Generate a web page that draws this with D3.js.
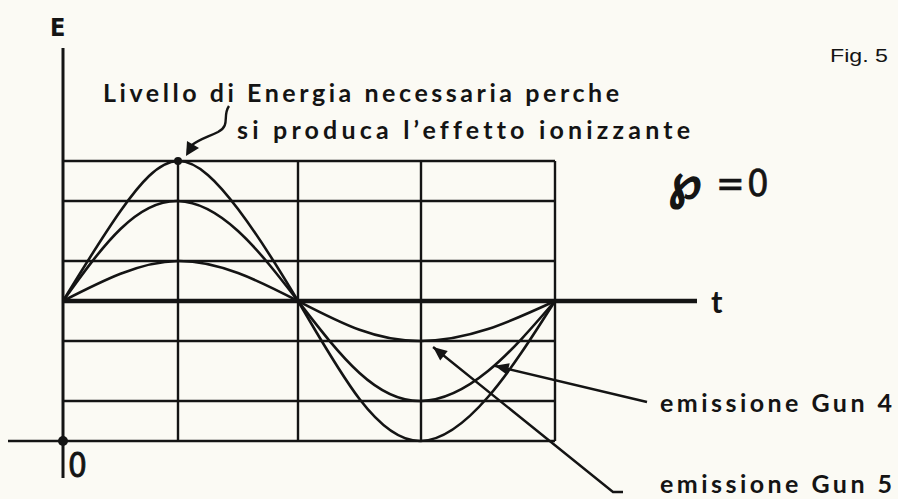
<!DOCTYPE html>
<html>
<head>
<meta charset="utf-8">
<script src="https://cdn.jsdelivr.net/npm/d3@7"></script>
<style>
  body { margin: 0; background: #fbfaf4; }
  svg { display: block; }
  text { fill: #141414; font-variant-ligatures: none; }
</style>
</head>
<body>
<svg width="898" height="499"></svg>
<script>
// grid columns (time) and rows (energy levels)
const tTicks = [0, 1, 2, 3, 4];
const eLevels = [3.5, 2.5, 1, 0, -1, -2.5, -3.5];

const tSample = [0, 0.5, 1, 1.5, 2, 2.5, 3, 3.5, 4];
const curveBig   = [0, 2.25, 3.5, 2.3, 0, -2.45, -3.5, -2.4, 0];
const curveGun4  = [0, 1.8, 2.5, 1.75, 0, -1.8, -2.5, -1.75, 0];
const curveGun5  = [0, 0.68, 1, 0.7, 0, -0.72, -1, -0.7, 0];

const svg = d3.select('svg');
const ink = '#141414';

// time axis is not uniform in the drawing (second half-wave is wider)
const x = d3.scaleLinear().domain(tTicks).range([63, 178, 298, 421, 555]);
const y = d3.scaleLinear().domain([-3.5, 3.5]).range([441, 161]);

svg.append('rect')
  .attr('width', 898).attr('height', 499)
  .attr('fill', '#fbfaf4');

const g = svg.append('g');

// horizontal grid lines
g.selectAll('.hline')
  .data(eLevels.filter(d => d !== 0))
  .enter().append('line')
  .attr('x1', d => d === -3.5 ? 8 : x(0))
  .attr('x2', x(4))
  .attr('y1', d => y(d))
  .attr('y2', d => y(d))
  .attr('stroke', ink)
  .attr('stroke-width', 2.4);

// vertical grid lines
g.selectAll('.vline')
  .data(tTicks.slice(1))
  .enter().append('line')
  .attr('x1', d => x(d))
  .attr('x2', d => x(d))
  .attr('y1', y(3.5))
  .attr('y2', y(-3.5))
  .attr('stroke', ink)
  .attr('stroke-width', 2.4);

// E axis
g.append('line')
  .attr('x1', x(0)).attr('x2', x(0))
  .attr('y1', 48).attr('y2', 478)
  .attr('stroke', ink)
  .attr('stroke-width', 3);

// t axis
g.append('line')
  .attr('x1', x(0)).attr('x2', 697)
  .attr('y1', y(0)).attr('y2', y(0))
  .attr('stroke', ink)
  .attr('stroke-width', 4.5);

// curves
const line = d3.line()
  .x((d, i) => x(tSample[i]))
  .y(d => y(d))
  .curve(d3.curveNatural);

g.selectAll('.curve')
  .data([curveBig, curveGun4, curveGun5])
  .enter().append('path')
  .attr('d', line)
  .attr('fill', 'none')
  .attr('stroke', ink)
  .attr('stroke-width', 2.6);

// dots
g.append('circle')
  .attr('cx', x(0)).attr('cy', y(-3.5))
  .attr('r', 5).attr('fill', ink);
g.append('circle')
  .attr('cx', x(1)).attr('cy', y(3.5))
  .attr('r', 4).attr('fill', ink);

// labels
const narrow = 'Liberation Sans Narrow, DejaVu Sans Condensed, sans-serif';

svg.append('text')
  .attr('x', 50).attr('y', 36)
  .attr('font-family', narrow)
  .attr('font-weight', 'bold')
  .attr('font-size', 25)
  .text('E');

svg.append('text')
  .attr('x', 711).attr('y', 313)
  .attr('font-family', 'Lato, sans-serif')
  .attr('font-weight', 'bold')
  .attr('font-size', 31)
  .text('t');

svg.append('text')
  .attr('x', 68).attr('y', 477)
  .attr('font-family', narrow)
  .attr('font-size', 33)
  .attr('stroke', ink)
  .attr('stroke-width', 0.8)
  .text('0');

svg.append('text')
  .attr('x', 830).attr('y', 62)
  .attr('font-family', 'Liberation Sans, Arial, sans-serif')
  .attr('font-size', 19)
  .attr('textLength', 58)
  .attr('lengthAdjust', 'spacingAndGlyphs')
  .text('Fig. 5');

const labelFont = 'Lato, sans-serif';

svg.append('text')
  .attr('x', 103).attr('y', 102)
  .attr('font-family', labelFont)
  .attr('font-weight', 'bold')
  .attr('font-size', 25)
  .attr('textLength', 516)
  .attr('lengthAdjust', 'spacing')
  .text('Livello di Energia necessaria perche');

svg.append('text')
  .attr('x', 237).attr('y', 139)
  .attr('font-family', labelFont)
  .attr('font-weight', 'bold')
  .attr('font-size', 25)
  .attr('textLength', 453)
  .attr('lengthAdjust', 'spacing')
  .text('si produca l\u2019effetto ionizzante');

svg.append('text')
  .attr('x', 668).attr('y', 198)
  .attr('font-family', 'DejaVu Sans, sans-serif')
  .attr('font-weight', 'bold')
  .attr('font-size', 48)
  .attr('stroke', ink)
  .attr('stroke-width', 1.5)
  .text('\u2118');
svg.append('text')
  .attr('x', 716).attr('y', 196)
  .attr('font-family', narrow)
  .attr('font-size', 38)
  .attr('stroke', ink)
  .attr('stroke-width', 0.6)
  .text('=');
svg.append('text')
  .attr('x', 747).attr('y', 196)
  .attr('font-family', narrow)
  .attr('font-size', 38)
  .attr('stroke', ink)
  .attr('stroke-width', 0.6)
  .text('0');

svg.append('text')
  .attr('x', 660).attr('y', 412)
  .attr('font-family', labelFont)
  .attr('font-weight', 'bold')
  .attr('font-size', 25)
  .attr('textLength', 232)
  .attr('lengthAdjust', 'spacing')
  .text('emissione Gun 4');

svg.append('text')
  .attr('x', 660).attr('y', 493)
  .attr('font-family', labelFont)
  .attr('font-weight', 'bold')
  .attr('font-size', 25)
  .attr('textLength', 232)
  .attr('lengthAdjust', 'spacing')
  .text('emissione Gun 5');

// squiggly arrow pointing to the threshold
const px = x(1), py = y(3.5);
svg.append('path')
  .attr('d', `M${px + 51},${py - 55} C${px + 44},${py - 45} ${px + 53},${py - 36} ${px + 40},${py - 29} C${px + 30},${py - 24} ${px + 22},${py - 22} ${px + 14},${py - 16}`)
  .attr('fill', 'none')
  .attr('stroke', ink)
  .attr('stroke-width', 2.4);
svg.append('path')
  .attr('d', `M${px + 8},${py - 5} L${px + 9},${py - 20} L${px + 21},${py - 13} Z`)
  .attr('fill', ink);

// leader lines with arrow heads to the curves
const leaders = [
  { t: 3.55, v: -1.62, pts: [[647, 402]] },
  { t: 3.09, v: -1.15, pts: [[613, 492], [623, 492]] }
];

leaders.forEach(l => {
  const tx = x(l.t), ty = y(l.v);
  const p = [[tx, ty]].concat(l.pts);
  svg.append('path')
    .attr('d', d3.line()(p))
    .attr('fill', 'none')
    .attr('stroke', ink)
    .attr('stroke-width', 2.4);
  const [nx, ny] = l.pts[0];
  const ang = Math.atan2(ny - ty, nx - tx);
  const len = 14, w = 6;
  const bx = tx + Math.cos(ang) * len, by = ty + Math.sin(ang) * len;
  const ox = -Math.sin(ang) * w, oy = Math.cos(ang) * w;
  svg.append('path')
    .attr('d', `M${tx},${ty} L${bx + ox},${by + oy} L${bx - ox},${by - oy} Z`)
    .attr('fill', ink);
});
</script>
</body>
</html>
